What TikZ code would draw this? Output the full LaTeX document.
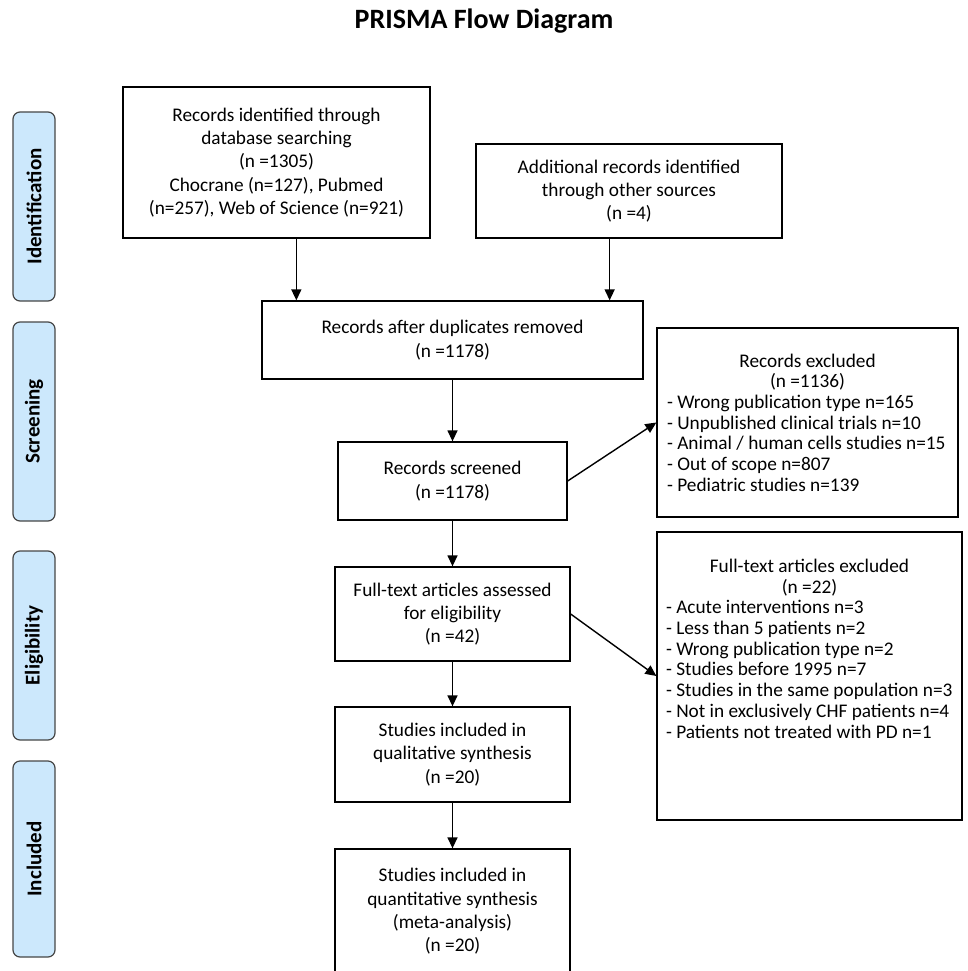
\documentclass[tikz,border=0pt]{standalone}
\usepackage{fontspec}
\setmainfont{Carlito}
\usetikzlibrary{arrows.meta,positioning}
\definecolor{phasefill}{RGB}{204,232,252}
\definecolor{phasedraw}{RGB}{70,70,70}
\tikzset{
	flowbox/.style={draw=black,line width=1.3pt,align=center,inner sep=2pt,font=\fontsize{19.3}{23.3}\selectfont},
	exclbox/.style={draw=black,line width=1.3pt,inner sep=0pt,font=\fontsize{19.3}{20.7}\selectfont},
	phase/.style={draw=phasedraw,fill=phasefill,rounded corners=7pt,line width=1.2pt,minimum height=42pt,rotate=90,font=\fontsize{21}{24}\selectfont\bfseries},
	flowarrow/.style={line width=1.4pt,-{Triangle[length=11pt,width=10pt]}}
}

\begin{document}
\begin{tikzpicture}[x=1pt,y=1pt]
		\clip (0,0) rectangle (968,-971);
		\node [font=\fontsize{28}{32}\selectfont\bfseries] (title) at (484,-21) {PRISMA Flow Diagram};
		% phases
		\node [phase,minimum width=189pt] (identification) at (34,-206.5) {Identification};
		\node [phase,minimum width=199pt] (screening) at (34,-421.5) {Screening};
		\node [phase,minimum width=189pt] (eligibility) at (34,-645.5) {Eligibility};
		\node [phase,minimum width=196pt] (included) at (34,-859) {Included};
		% main column
		\node [flowbox,minimum width=307pt,minimum height=151pt] (database) at (276.5,-162.5) {Records identified through\\database searching\\(n =1305)\\Chocrane (n=127), Pubmed\\(n=257), Web of Science (n=921)};
		\node [flowbox,minimum width=306pt,minimum height=94pt] (other) at (629,-191) {Additional records identified\\through other sources\\(n =4)};
		\node [flowbox,minimum width=381pt,minimum height=78pt] (dupl) at (452.5,-340) {Records after duplicates removed\\(n =1178)};
		\node [flowbox,minimum width=229pt,minimum height=78pt,below of=dupl,node distance=141pt] (screened) {Records screened\\(n =1178)};
		\node [flowbox,minimum width=235pt,minimum height=94pt,below of=screened,node distance=133pt] (fulltext) {Full-text articles assessed\\for eligibility\\(n =42)};
		\node [flowbox,minimum width=235pt,minimum height=95pt,below of=fulltext,node distance=140.5pt] (qual) {Studies included in\\qualitative synthesis\\(n =20)};
		\node [flowbox,minimum width=235pt,minimum height=125pt,below of=qual,node distance=157pt] (quant) {Studies included in\\quantitative synthesis\\(meta-analysis)\\(n =20)};
		% exclusions
		\node [exclbox,minimum width=301pt,minimum height=189pt] (recexcl) at (807.5,-422.5) {\parbox{281pt}{\centering Records excluded\\(n =1136)\par\raggedright
			- Wrong publication type n=165\\
			- Unpublished clinical trials n=10\\
			- Animal / human cells studies n=15\\
			- Out of scope n=807\\
			- Pediatric studies n=139}};
		\node [exclbox,minimum width=305pt,minimum height=288pt] (ftexcl) at (809.5,-676) {\parbox[c][234pt][t]{287pt}{\centering Full-text articles excluded\\(n =22)\par\raggedright
			- Acute interventions n=3\\
			- Less than 5 patients n=2\\
			- Wrong publication type n=2\\
			- Studies before 1995 n=7\\
			- Studies in the same population n=3\\
			- Not in exclusively CHF patients n=4\\
			- Patients not treated with PD n=1}};
		\coordinate (in1) at ([xshift=35pt]dupl.north west);
		\coordinate (in2) at ([xshift=-34pt]dupl.north east);
		\draw [flowarrow] (database.south -| in1) -- (in1);
		\draw [flowarrow] (other.south -| in2) -- (in2);
		\draw [flowarrow] (dupl) -- (screened);
		\draw [flowarrow] (screened) -- (fulltext);
		\draw [flowarrow] (fulltext) -- (qual);
		\draw [flowarrow] (qual) -- (quant);
		\draw [flowarrow] (screened.east) -- (recexcl.west);
		\draw [flowarrow] (fulltext.east) -- (ftexcl.west);
	\end{tikzpicture}
\end{document}
